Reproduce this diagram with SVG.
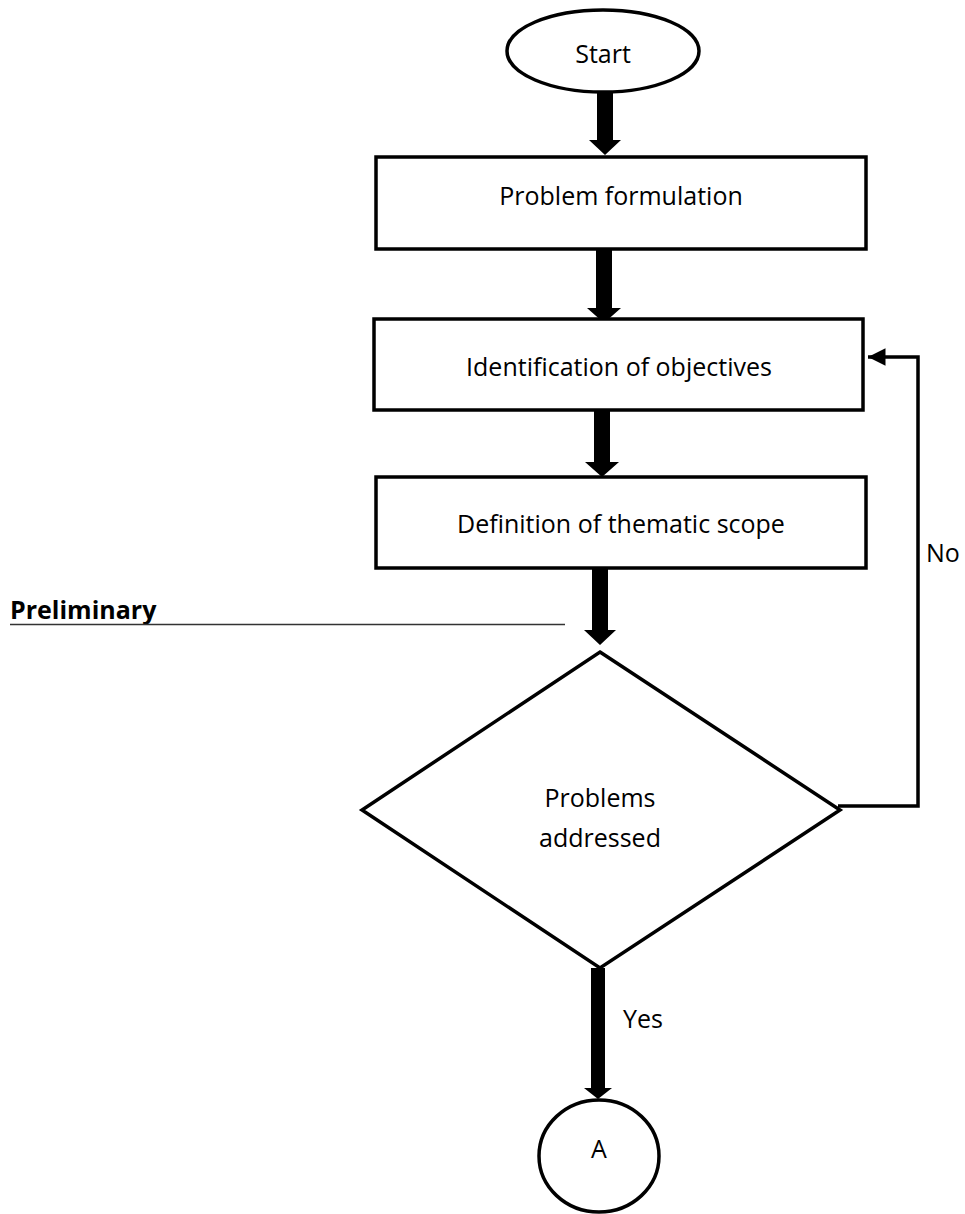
<svg xmlns="http://www.w3.org/2000/svg" width="965" height="1214" viewBox="0 0 965 1214">
  <style>
    .shape { fill: #ffffff; stroke: #000000; stroke-width: 3.5; }
    .label { font-family: "Open Sans", "Liberation Sans", sans-serif; font-size: 25px; fill: #000000; }
    .mid { text-anchor: middle; }
    .bold { font-weight: bold; }
    .thick { fill: #000000; }
    .thin { fill: none; stroke: #000000; stroke-width: 3.5; }
  </style>
  <defs>
    <marker id="head" viewBox="0 0 10 10" refX="10" refY="5" markerWidth="5" markerHeight="5" orient="auto" markerUnits="strokeWidth">
      <path d="M0,0 L10,5 L0,10 z" fill="#000000"/>
    </marker>
  </defs>
  <rect width="965" height="1214" fill="#ffffff"/>

  <!-- section marker on the left -->
  <g id="preliminary">
    <text class="label bold" x="10" y="619">Preliminary</text>
    <line x1="10" y1="624.5" x2="565" y2="624.5" stroke="#333333" stroke-width="1.5"/>
  </g>

  <!-- connectors -->
  <g id="connectors">
    <!-- bold block arrows down the main flow -->
    <polygon class="thick" points="597,93 613,93 613,140 621,140 605,155 589,140 597,140"/>
    <polygon class="thick" points="596,249 612,249 612,308 621,308 604,323 587,308 596,308"/>
    <polygon class="thick" points="594,410 610,410 610,462 619,462 602,477 585,462 594,462"/>
    <polygon class="thick" points="592,568 608,568 608,630 616,630 600,645 584,630 592,630"/>
    <polygon class="thick" points="591,968 605,968 605,1088 612,1088 598,1099 584,1088 591,1088"/>
    <!-- "No" loop back to the objectives step -->
    <polyline class="thin" points="838,806 918,806 918,357 868,357" marker-end="url(#head)"/>
    <text class="label" x="926" y="562">No</text>
    <text class="label" x="623" y="1028">Yes</text>
  </g>

  <g id="start">
    <ellipse class="shape" cx="603" cy="51" rx="96" ry="41"/>
    <text class="label mid" x="603" y="63">Start</text>
  </g>

  <g id="problem-formulation">
    <rect class="shape" x="376" y="157" width="490" height="92"/>
    <text class="label mid" x="621" y="205">Problem formulation</text>
  </g>

  <g id="objectives">
    <rect class="shape" x="374" y="319" width="489" height="91"/>
    <text class="label mid" x="619" y="376">Identification of objectives</text>
  </g>

  <g id="thematic-scope">
    <rect class="shape" x="376" y="477" width="490" height="91"/>
    <text class="label mid" x="621" y="533">Definition of thematic scope</text>
  </g>

  <g id="problems-addressed">
    <polygon class="shape" points="600,652 840,810 600,968 362,810"/>
    <text class="label mid" x="600" y="807">Problems</text>
    <text class="label mid" x="600" y="847">addressed</text>
  </g>

  <g id="connector-a">
    <ellipse class="shape" cx="599" cy="1156" rx="60" ry="56"/>
    <text class="label mid" x="599" y="1158">A</text>
  </g>
</svg>
